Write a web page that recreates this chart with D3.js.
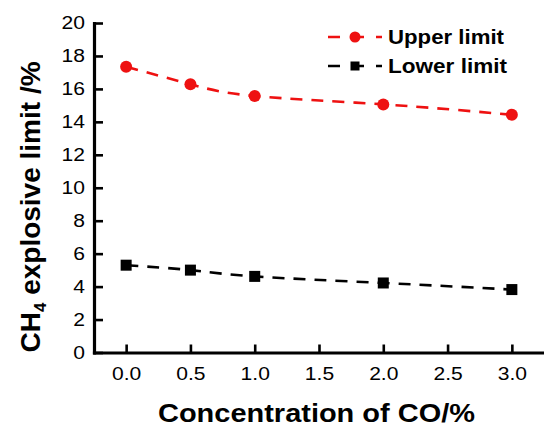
<!DOCTYPE html>
<html>
<head>
<meta charset="utf-8">
<title>CH4 explosive limit vs CO</title>
<script src="https://d3js.org/d3.v7.min.js"></script>
<style>
  body { margin: 0; background: #fff; }
  text { font-family: "Liberation Sans", Arial, sans-serif; fill: #000; }
</style>
</head>
<body>
<script>
// data
var coConc = [0, 0.5, 1.0, 2.0, 3.0];
var upperLimit = [17.35, 16.28, 15.57, 15.06, 14.43];
var lowerLimit = [5.30, 5.00, 4.62, 4.22, 3.82];
var xTicks = [0, 0.5, 1.0, 1.5, 2.0, 2.5, 3.0];
var yTicks = [0, 2, 4, 6, 8, 10, 12, 14, 16, 18, 20];
var seriesNames = ["Upper limit", "Lower limit"];
var seriesColors = ["#ee1111", "#000000"];

var width = 544, height = 426;
var red = seriesColors[0], black = seriesColors[1];

var svg = d3.select("body").append("svg")
  .attr("width", width).attr("height", height);

var x = d3.scaleLinear().domain([-0.25, 3.25]).range([94, 544]);
var y = d3.scaleLinear().domain([0, 20]).range([352.5, 23]);

// axes (ticks point inward)
var gx = svg.append("g")
  .attr("transform", "translate(0," + y(0) + ")")
  .call(d3.axisBottom(x).tickValues(xTicks).tickFormat(d3.format(".1f"))
    .tickSizeInner(-8).tickSizeOuter(0).tickPadding(15));
var gy = svg.append("g")
  .attr("transform", "translate(" + x(-0.25) + ",0)")
  .call(d3.axisLeft(y).tickValues(yTicks)
    .tickSizeInner(-9).tickSizeOuter(0).tickPadding(9));

svg.selectAll(".domain").attr("stroke", "#000").attr("stroke-width", 3.2)
  .attr("stroke-linecap", "square");
svg.selectAll(".tick line").attr("stroke", "#000").attr("stroke-width", 2.6);
svg.selectAll(".tick text").attr("font-size", 18)
  .attr("font-family", "Liberation Sans, Arial, sans-serif");

// the picture is a little wide: stretch tick labels
svg.selectAll(".tick text").each(function() {
  var w = this.getComputedTextLength();
  d3.select(this).attr("textLength", w * 1.17).attr("lengthAdjust", "spacingAndGlyphs");
});

// series
var line = d3.line()
  .x(function(d) { return x(d[0]); })
  .y(function(d) { return y(d[1]); })
  .curve(d3.curveNatural);

var upperPts = coConc.map(function(c, i) { return [c, upperLimit[i]]; });
var lowerPts = coConc.map(function(c, i) { return [c, lowerLimit[i]]; });

svg.append("path").datum(upperPts).attr("d", line)
  .attr("fill", "none").attr("stroke", red).attr("stroke-width", 2.6)
  .attr("stroke-dasharray", "12,9");
svg.append("path").datum(lowerPts).attr("d", line)
  .attr("fill", "none").attr("stroke", black).attr("stroke-width", 2.6)
  .attr("stroke-dasharray", "12,9");

svg.selectAll("circle.up").data(upperPts).enter().append("circle")
  .attr("class", "up")
  .attr("cx", function(d) { return x(d[0]); })
  .attr("cy", function(d) { return y(d[1]); })
  .attr("r", 6).attr("fill", red);

svg.selectAll("rect.low").data(lowerPts).enter().append("rect")
  .attr("class", "low")
  .attr("x", function(d) { return x(d[0]) - 5.5; })
  .attr("y", function(d) { return y(d[1]) - 5.5; })
  .attr("width", 11).attr("height", 11).attr("fill", black);

// legend
var legend = svg.append("g");
var rows = [37, 66];
seriesNames.forEach(function(name, i) {
  var g = legend.append("g").attr("transform", "translate(0," + rows[i] + ")");
  g.append("line").attr("x1", 328).attr("x2", 382).attr("y1", 0).attr("y2", 0)
    .attr("stroke", seriesColors[i]).attr("stroke-width", 2.6)
    .attr("stroke-dasharray", "12,12");
  if (i === 0) {
    g.append("circle").attr("cx", 355).attr("cy", 0).attr("r", 5.5).attr("fill", red);
  } else {
    g.append("rect").attr("x", 350.5).attr("y", -4.5).attr("width", 9).attr("height", 9)
      .attr("fill", black);
  }
  g.append("text").attr("x", 388).attr("y", 7)
    .attr("font-size", 20).attr("font-weight", "bold")
    .attr("textLength", i === 0 ? 116 : 119).attr("lengthAdjust", "spacingAndGlyphs")
    .text(name);
});

// axis titles
svg.append("text")
  .attr("x", 316.5).attr("y", 422)
  .attr("text-anchor", "middle")
  .attr("font-size", 25).attr("font-weight", "bold")
  .attr("textLength", 317).attr("lengthAdjust", "spacingAndGlyphs")
  .text("Concentration of CO/%");

var yl = svg.append("text")
  .attr("transform", "translate(40,207) rotate(-90)")
  .attr("text-anchor", "middle")
  .attr("font-size", 28).attr("font-weight", "bold");
yl.append("tspan").text("CH");
yl.append("tspan").attr("font-size", 17).attr("dy", 6).text("4");
yl.append("tspan").attr("dy", -6).text(" explosive limit /%");
</script>
</body>
</html>
